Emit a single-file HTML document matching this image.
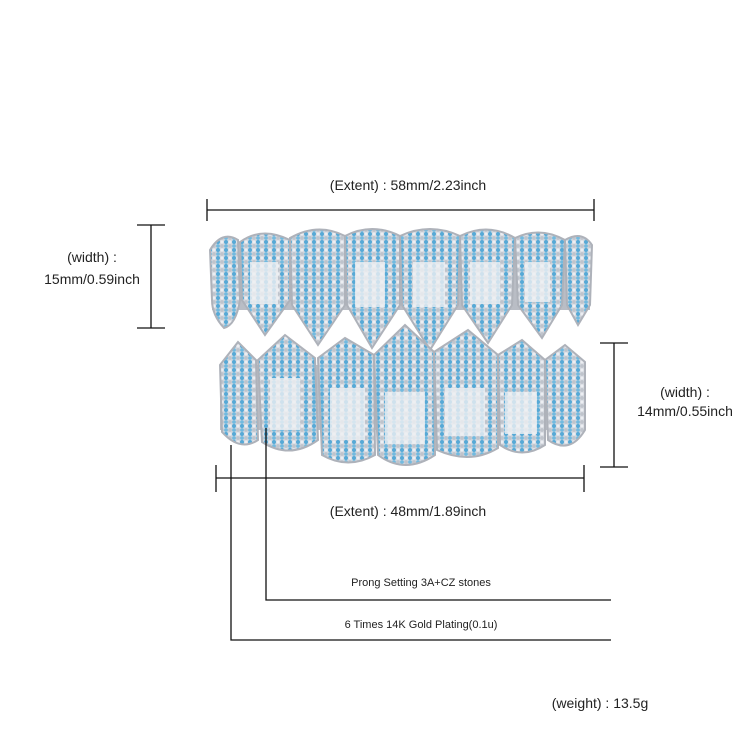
<!DOCTYPE html>
<html><head><meta charset="utf-8"><style>html,body{margin:0;padding:0;background:#fff}svg{display:block}</style></head><body>
<svg width="750" height="750" viewBox="0 0 750 750" xmlns="http://www.w3.org/2000/svg" font-family="'Liberation Sans',sans-serif">
<defs>
<pattern id="st" width="8" height="8" patternUnits="userSpaceOnUse">
<rect width="8" height="8" fill="#d5d9e0"/>
<circle cx="2" cy="2" r="2" fill="#56a9d6"/>
<circle cx="6" cy="6" r="1.9" fill="#bfc4cc"/>
<circle cx="6" cy="2" r="1.5" fill="#eceef2"/>
<circle cx="2" cy="6" r="1.9" fill="#72badf"/>
</pattern>
</defs>
<!-- upper grill -->
<rect x="212" y="255" width="378" height="55" fill="#b9bdc5"/>
<g fill="url(#st)" stroke="#aeb2ba" stroke-width="2">
<path d="M210 250 Q222 230 238 240 L240 300 Q236 325 224 328 Q212 315 212 300 Z"/>
<path d="M240 242 Q262 226 290 240 L290 300 L265 335 L242 300 Z"/>
<path d="M290 238 Q318 222 345 236 L345 305 L318 345 L292 305 Z"/>
<path d="M345 236 Q372 222 400 236 L400 305 L372 348 L347 305 Z"/>
<path d="M400 236 Q430 222 460 236 L458 305 L430 350 L402 305 Z"/>
<path d="M460 236 Q488 222 515 238 L512 305 L488 343 L462 305 Z"/>
<path d="M515 238 Q540 226 565 240 L562 305 L542 338 L518 305 Z"/>
<path d="M565 240 Q582 230 592 245 L590 305 L578 325 L567 305 Z"/>
</g>
<g fill="#eef0f3" opacity="0.8">
<rect x="250" y="262" width="28" height="42"/><rect x="355" y="262" width="30" height="45"/><rect x="413" y="262" width="32" height="45"/><rect x="470" y="262" width="30" height="42"/><rect x="525" y="262" width="25" height="40"/>
</g>
<!-- lower grill -->
<rect x="220" y="365" width="365" height="65" fill="#b9bdc5"/>
<g fill="url(#st)" stroke="#aeb2ba" stroke-width="2">
<path d="M220 365 L238 342 L256 360 L258 440 Q240 452 222 432 Z"/>
<path d="M258 360 L285 335 L315 358 L318 440 Q290 460 262 442 Z"/>
<path d="M318 358 L345 338 L374 355 L375 455 Q348 470 322 455 Z"/>
<path d="M374 355 L405 325 L434 352 L435 455 Q405 475 378 455 Z"/>
<path d="M434 352 L468 330 L498 355 L498 448 Q470 465 437 450 Z"/>
<path d="M498 355 L522 340 L545 360 L545 445 Q522 460 500 445 Z"/>
<path d="M545 360 L565 345 L585 362 L585 430 Q570 455 548 440 Z"/>
</g>
<g fill="#eef0f3" opacity="0.8">
<rect x="270" y="378" width="30" height="52"/><rect x="330" y="388" width="35" height="52"/><rect x="385" y="392" width="40" height="52"/><rect x="445" y="388" width="40" height="48"/><rect x="505" y="392" width="32" height="42"/>
</g>
<!-- dimension lines -->
<g stroke="#111" stroke-width="1.3" fill="none">
<line x1="207" y1="210" x2="594" y2="210"/><line x1="207" y1="199" x2="207" y2="221"/><line x1="594" y1="199" x2="594" y2="221"/>
<line x1="151" y1="225" x2="151" y2="328"/><line x1="137" y1="225" x2="165" y2="225"/><line x1="137" y1="328" x2="165" y2="328"/>
<line x1="614" y1="343" x2="614" y2="467"/><line x1="600" y1="343" x2="628" y2="343"/><line x1="600" y1="467" x2="628" y2="467"/>
<line x1="216" y1="478" x2="584" y2="478"/><line x1="216" y1="465" x2="216" y2="492"/><line x1="584" y1="465" x2="584" y2="492"/>
<polyline points="266,428 266,600 611,600"/>
<polyline points="231,445 231,640 611,640"/>
</g>
<g fill="#222" font-size="14" text-anchor="middle">
<text x="408" y="190">(Extent) : 58mm/2.23inch</text>
<text x="92" y="262">(width) :</text>
<text x="92" y="284">15mm/0.59inch</text>
<text x="685" y="397">(width) :</text>
<text x="685" y="416">14mm/0.55inch</text>
<text x="408" y="516">(Extent) : 48mm/1.89inch</text>
<text x="421" y="586" font-size="11">Prong Setting 3A+CZ stones</text>
<text x="421" y="628" font-size="11">6 Times  14K  Gold  Plating(0.1u)</text>
<text x="600" y="708">(weight) :  13.5g</text>
</g>
</svg>
</body></html>
